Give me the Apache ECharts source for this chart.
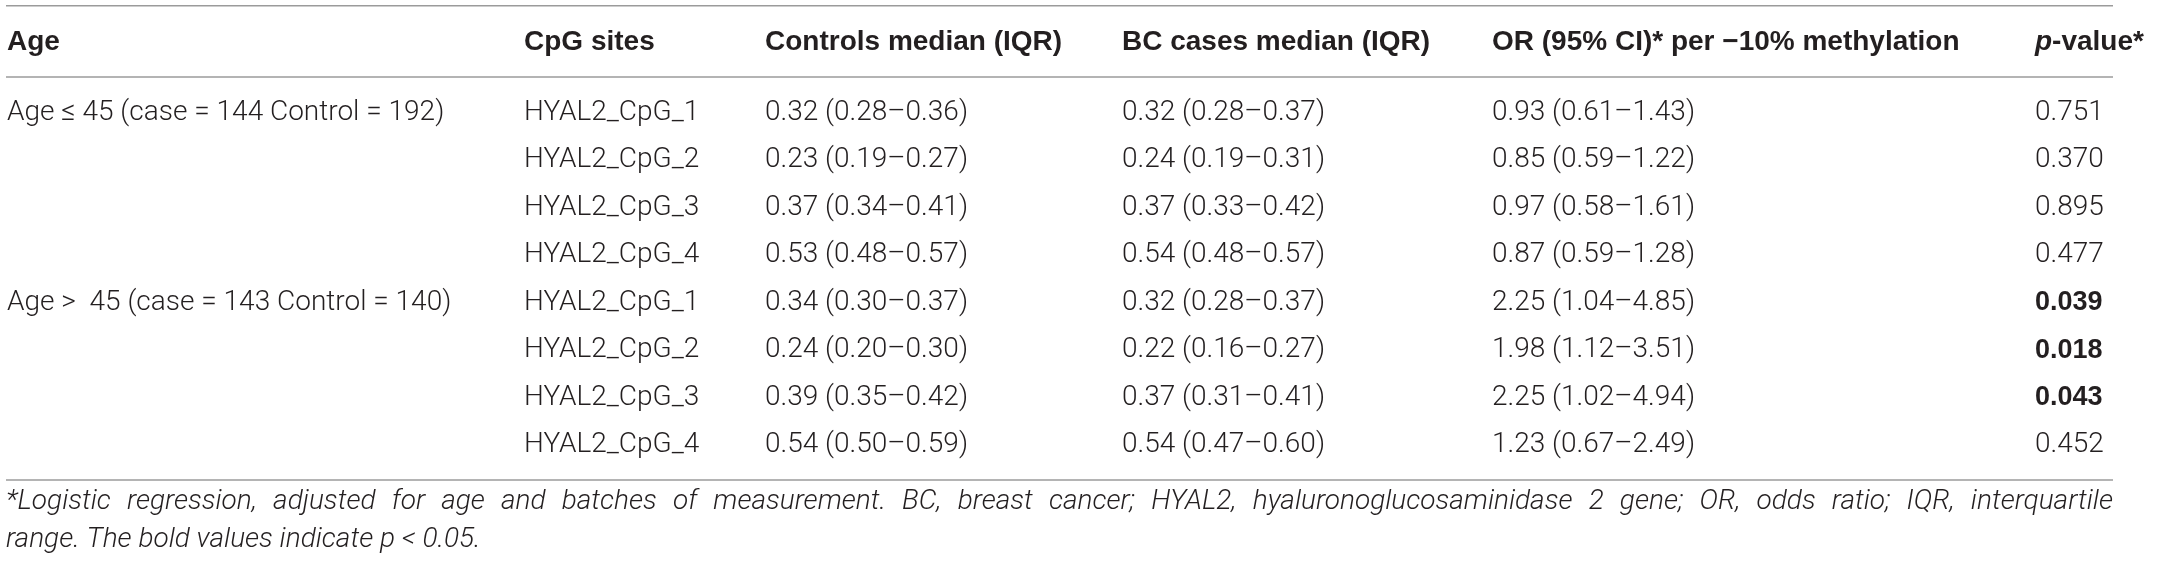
<!DOCTYPE html>
<html>
<head>
<meta charset="utf-8">
<script src="https://cdn.jsdelivr.net/npm/echarts@6/dist/echarts.min.js"></script>
<style>
  html, body { margin: 0; padding: 0; background: #fff; }
  #main { width: 2159px; height: 565px; }
</style>
</head>
<body>
<div id="main"></div>
<script>
// table data
var headers = ['Age', 'CpG sites', 'Controls median (IQR)', 'BC cases median (IQR)', 'OR (95% CI)* per \u221210% methylation', '{pi|p}-value*'];
var ageGroups = ['Age \u2264 45 (case = 144 Control = 192)', '', '', '', 'Age >  45 (case = 143 Control = 140)', '', '', ''];
var cpgSites = ['HYAL2_CpG_1', 'HYAL2_CpG_2', 'HYAL2_CpG_3', 'HYAL2_CpG_4', 'HYAL2_CpG_1', 'HYAL2_CpG_2', 'HYAL2_CpG_3', 'HYAL2_CpG_4'];
var ctrlMedian = [0.32, 0.23, 0.37, 0.53, 0.34, 0.24, 0.39, 0.54];
var ctrlLow = [0.28, 0.19, 0.34, 0.48, 0.30, 0.20, 0.35, 0.50];
var ctrlHigh = [0.36, 0.27, 0.41, 0.57, 0.37, 0.30, 0.42, 0.59];
var caseMedian = [0.32, 0.24, 0.37, 0.54, 0.32, 0.22, 0.37, 0.54];
var caseLow = [0.28, 0.19, 0.33, 0.48, 0.28, 0.16, 0.31, 0.47];
var caseHigh = [0.37, 0.31, 0.42, 0.57, 0.37, 0.27, 0.41, 0.60];
var orValue = [0.93, 0.85, 0.97, 0.87, 2.25, 1.98, 2.25, 1.23];
var orLow = [0.61, 0.59, 0.58, 0.59, 1.04, 1.12, 1.02, 0.67];
var orHigh = [1.43, 1.22, 1.61, 1.28, 4.85, 3.51, 4.94, 2.49];
var pValues = [0.751, 0.370, 0.895, 0.477, 0.039, 0.018, 0.043, 0.452];
var footnote = [
  '*Logistic regression, adjusted for age and batches of measurement. BC, breast cancer; HYAL2, hyaluronoglucosaminidase 2 gene; OR, odds ratio; IQR, interquartile',
  'range. The bold values indicate p < 0.05.'
];

// layout
var W = 2159;
var colX = [7, 524, 765, 1122, 1492, 2035];
var ruleLeft = 6, ruleRight = 2113;
var family = '"Liberation Sans", Arial, sans-serif';
var lightFamily = 'Roboto, "Liberation Sans", sans-serif';
var ink = '#231f20';

function range(v, lo, hi) {
    return v.toFixed(2) + ' (' + lo.toFixed(2) + '\u2013' + hi.toFixed(2) + ')';
}

function cellText(c, r) {
    if (c == 0) return ageGroups[r];
    if (c == 1) return cpgSites[r];
    if (c == 2) return range(ctrlMedian[r], ctrlLow[r], ctrlHigh[r]);
    if (c == 3) return range(caseMedian[r], caseLow[r], caseHigh[r]);
    if (c == 4) return range(orValue[r], orLow[r], orHigh[r]);
    return pValues[r].toFixed(3);
}

var cells = [];
for (var r = 0; r < cpgSites.length; r++) {
    for (var c = 0; c < headers.length; c++) {
        cells.push([colX[c], r, c]);
    }
}

// header + rules
var graphics = [];
headers.forEach(function (h, i) {
    graphics.push({
        type: 'text', x: colX[i], y: 42,
        style: {
            text: h, fill: ink, font: 'bold 28px ' + family, verticalAlign: 'middle',
            rich: { pi: { fontStyle: 'italic', fontWeight: 'bold', fontSize: 28, fontFamily: family, fill: ink } }
        }
    });
});
[5.7, 77, 480].forEach(function (y) {
    graphics.push({
        type: 'line', shape: { x1: ruleLeft, y1: y, x2: ruleRight, y2: y },
        style: { stroke: '#9b9b9b', lineWidth: 1.6 }
    });
});

// footnote, justified on the first line
var ctx = document.createElement('canvas').getContext('2d');
var footFont = function (s) { return 'italic 300 ' + s + 'px ' + lightFamily; };
var fs = 28;
var lineWidth = ruleRight - ruleLeft;
while (fs > 18) {
    ctx.font = footFont(fs);
    if (ctx.measureText(footnote[0]).width <= lineWidth) break;
    fs -= 0.5;
}
ctx.font = footFont(fs);
var words = footnote[0].split(' ');
var total = 0;
words.forEach(function (w) { total += ctx.measureText(w).width; });
var gap = (lineWidth - total) / (words.length - 1);
var cx = ruleLeft;
words.forEach(function (w) {
    graphics.push({
        type: 'text', x: cx, y: 502,
        style: { text: w, fill: ink, font: footFont(fs), verticalAlign: 'middle' }
    });
    cx += ctx.measureText(w).width + gap;
});
graphics.push({
    type: 'text', x: ruleLeft, y: 540,
    style: { text: footnote[1], fill: ink, font: footFont(fs), verticalAlign: 'middle' }
});

var myChart = echarts.init(document.getElementById('main'));
myChart.setOption({
    backgroundColor: '#ffffff',
    animation: false,
    grid: { left: 0, right: 0, top: 89.3, bottom: 96.3 },
    xAxis: { type: 'value', min: 0, max: W, show: false },
    yAxis: { type: 'category', data: cpgSites.map(function (s, i) { return i; }), inverse: true, show: false },
    graphic: graphics,
    series: [{
        type: 'custom',
        data: cells,
        encode: { x: 0, y: 1 },
        renderItem: function (params, api) {
            var c = api.value(2), r = api.value(1);
            var pt = api.coord([api.value(0), r]);
            var bold = c == 5 && pValues[r] < 0.05;
            return {
                type: 'text', x: pt[0], y: pt[1],
                style: {
                    text: cellText(c, r), fill: ink, verticalAlign: 'middle',
                    font: bold ? 'bold 27px ' + family : '300 28px ' + lightFamily
                }
            };
        }
    }]
});
</script>
</body>
</html>
